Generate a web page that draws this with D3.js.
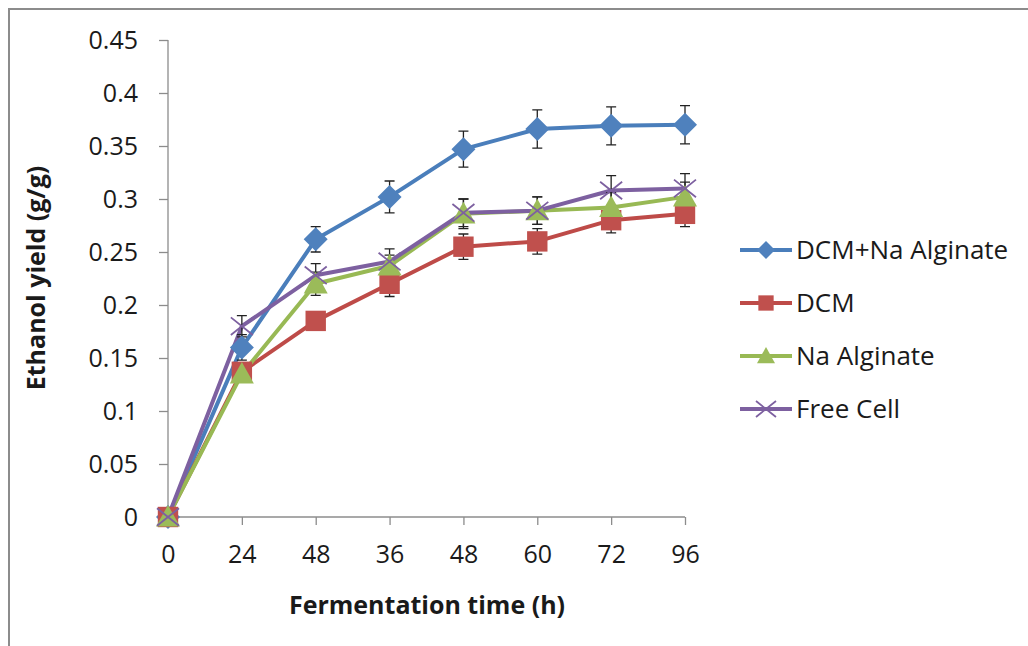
<!DOCTYPE html>
<html>
<head>
<meta charset="utf-8">
<script src="https://cdn.jsdelivr.net/npm/d3@7"></script>
<style>
  body { margin: 0; background: #fff; }
  svg text { font-family: "Open Sans", "DejaVu Sans", sans-serif; fill: #1a1a1a; }
</style>
</head>
<body>
<div id="container"></div>
<script>
// data
const timeLabels = ["0", "24", "48", "36", "48", "60", "72", "96"];
const seriesNames = ["DCM+Na Alginate", "DCM", "Na Alginate", "Free Cell"];
const dcmNaAlginate = [0, 0.160, 0.262, 0.302, 0.347, 0.366, 0.369, 0.370];
const dcmNaAlginateErr = [0, 0.012, 0.012, 0.015, 0.017, 0.018, 0.018, 0.018];
const dcm = [0, 0.137, 0.185, 0.220, 0.255, 0.260, 0.280, 0.286];
const dcmErr = [0, 0.008, 0.008, 0.012, 0.012, 0.012, 0.012, 0.012];
const naAlginate = [0, 0.135, 0.220, 0.237, 0.286, 0.289, 0.292, 0.302];
const naAlginateErr = [0, 0.008, 0.011, 0.010, 0.014, 0.013, 0.014, 0.014];
const freeCell = [0, 0.180, 0.228, 0.241, 0.287, 0.289, 0.308, 0.310];
const freeCellErr = [0, 0.010, 0.011, 0.012, 0.013, 0.013, 0.014, 0.014];
const yTicks = [0, 0.05, 0.1, 0.15, 0.2, 0.25, 0.3, 0.35, 0.4, 0.45];

const series = [
  {name: seriesNames[0], values: dcmNaAlginate, err: dcmNaAlginateErr, color: "#4A7EBB", fill: "#4F81BD", symbol: "diamond"},
  {name: seriesNames[1], values: dcm, err: dcmErr, color: "#BE4B48", fill: "#C0504D", symbol: "square"},
  {name: seriesNames[2], values: naAlginate, err: naAlginateErr, color: "#98B954", fill: "#9BBB59", symbol: "triangle"},
  {name: seriesNames[3], values: freeCell, err: freeCellErr, color: "#7D60A0", fill: "#8064A2", symbol: "x"}
];

const width = 1028, height = 646;
const svg = d3.select("#container").append("svg")
  .attr("width", width).attr("height", height);

// outer frame (top and left only visible)
svg.append("path")
  .attr("d", "M9,646 V9 H1028")
  .attr("fill", "none").attr("stroke", "#8c8c8c").attr("stroke-width", 2);

const x = d3.scalePoint().domain(d3.range(timeLabels.length)).range([168, 685]);
const y = d3.scaleLinear().domain([0, 0.45]).range([517, 40]);

// y axis
const yAxis = svg.append("g").attr("transform", "translate(168,0)")
  .call(d3.axisLeft(y).tickValues(yTicks).tickSize(9).tickPadding(21)
    .tickFormat(d => d3.format("")(+d.toFixed(2))));
yAxis.selectAll("path, line").attr("stroke", "#8c8c8c").attr("stroke-width", 1.3);
yAxis.select(".domain").attr("d", `M0,${y(0.45)}V${y(0)}`);
yAxis.selectAll("text").style("font-size", "25px").attr("font-family", null);

// x axis
const xAxis = svg.append("g").attr("transform", "translate(0,517)")
  .call(d3.axisBottom(x).tickSize(8).tickPadding(20).tickFormat(i => timeLabels[i]));
xAxis.selectAll("path, line").attr("stroke", "#8c8c8c").attr("stroke-width", 1.3);
xAxis.select(".domain").attr("d", `M168,0H685`);
xAxis.selectAll(".tick").filter(i => i === 0).select("line").remove();
xAxis.selectAll("text").style("font-size", "25px").attr("font-family", null);

// axis titles
svg.append("text")
  .attr("transform", "translate(45,278) rotate(-90)")
  .attr("text-anchor", "middle")
  .style("font-size", "25px").style("font-weight", "bold")
  .text("Ethanol yield (g/g)");
svg.append("text")
  .attr("x", 427).attr("y", 614)
  .attr("text-anchor", "middle")
  .style("font-size", "25px").style("font-weight", "bold")
  .text("Fermentation time (h)");

function drawMarker(g, s, size) {
  if (s.symbol === "x") {
    const r = size;
    g.append("path")
      .attr("d", `M${-r},${-r * 0.8}L${r},${r * 0.8}M${-r},${r * 0.8}L${r},${-r * 0.8}`)
      .attr("stroke", s.color).attr("stroke-width", 1.8).attr("fill", "none");
  } else if (s.symbol === "diamond") {
    g.append("path").attr("d", `M0,${-size}L${size},0L0,${size}L${-size},0Z`).attr("fill", s.fill);
  } else if (s.symbol === "square") {
    g.append("rect").attr("x", -size * 0.85).attr("y", -size * 0.85)
      .attr("width", size * 1.7).attr("height", size * 1.7).attr("fill", s.fill);
  } else {
    g.append("path").attr("d", `M0,${-size}L${size},${size * 0.8}L${-size},${size * 0.8}Z`).attr("fill", s.fill);
  }
}

const line = d3.line().x((d, i) => x(i)).y(d => y(d));

// lines
series.forEach(s => {
  svg.append("path").datum(s.values)
    .attr("d", line).attr("fill", "none")
    .attr("stroke", s.color).attr("stroke-width", 4).attr("stroke-linejoin", "round");
});

// error bars
series.forEach(s => {
  const eb = svg.append("g");
  s.values.forEach((v, i) => {
    if (!s.err[i]) return;
    const cx = x(i), t = y(v + s.err[i]), b = y(v - s.err[i]);
    eb.append("path")
      .attr("d", `M${cx},${t}V${b}M${cx - 5},${t}H${cx + 5}M${cx - 5},${b}H${cx + 5}`)
      .attr("stroke", "#222").attr("stroke-width", 1.3).attr("fill", "none");
  });
});

// markers
series.forEach(s => {
  s.values.forEach((v, i) => {
    const g = svg.append("g").attr("transform", `translate(${x(i)},${y(v)})`);
    drawMarker(g, s, s.symbol === "x" ? 11 : 12);
  });
});

// legend
const legend = svg.append("g").attr("transform", "translate(740,250)");
series.forEach((s, i) => {
  const g = legend.append("g").attr("transform", `translate(0,${i * 53})`);
  g.append("line").attr("x1", 0).attr("x2", 52).attr("y1", 0).attr("y2", 0)
    .attr("stroke", s.color).attr("stroke-width", 4);
  const m = g.append("g").attr("transform", "translate(26,0)");
  drawMarker(m, s, s.symbol === "x" ? 10 : 9);
  g.append("text").attr("x", 56).attr("y", 0).attr("dy", "0.35em")
    .style("font-size", "26px").text(s.name);
});
</script>
</body>
</html>
